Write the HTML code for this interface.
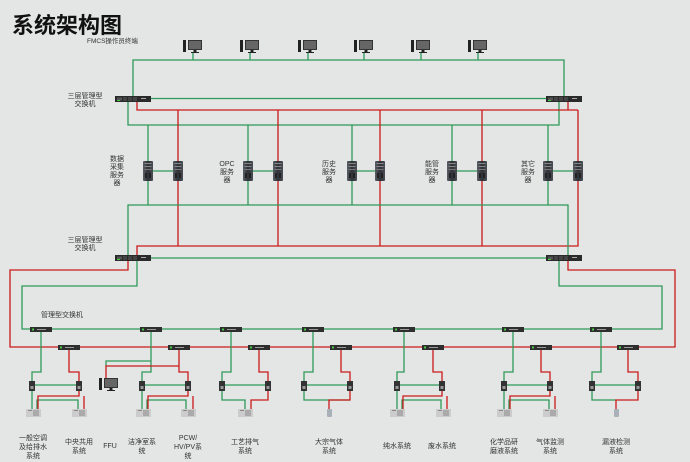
<!DOCTYPE html>
<html><head><meta charset="utf-8"><style>
body{margin:0;background:#e4e6e5;}
svg{display:block}
text{font-family:"Liberation Sans","Noto Sans CJK SC",sans-serif;fill:#333;font-size:7px}
</style></head><body>
<svg width="690" height="462" viewBox="0 0 690 462" xmlns="http://www.w3.org/2000/svg">
<defs>
<linearGradient id="sv" x1="0" x2="1"><stop offset="0" stop-color="#5a5f66"/><stop offset="0.5" stop-color="#2d3036"/><stop offset="1" stop-color="#4a4e55"/></linearGradient>
<g id="mon"><rect x="0" y="0" width="3" height="12" fill="#222"/><rect x="5" y="0" width="14" height="10" fill="#333"/><rect x="6" y="1" width="12" height="8" fill="#666"/><rect x="10.5" y="10" width="3" height="2" fill="#222"/><rect x="8" y="12" width="8" height="1" fill="#222"/></g>
<g id="sw3"><rect x="0" y="0" width="36" height="6" fill="#2a2a2a"/><rect x="2" y="1.5" width="5" height="3" fill="#555"/><rect x="2" y="4" width="3" height="1" fill="#4c4"/><rect x="8" y="1" width="4" height="4" fill="#444"/><rect x="13" y="1" width="4" height="4" fill="#444"/><rect x="18" y="1" width="4" height="4" fill="#444"/><rect x="26" y="2" width="5" height="1" fill="#aaa"/></g>
<g id="sw"><rect x="0" y="0" width="22" height="5" fill="#2e2e2e"/><rect x="2" y="1.5" width="2" height="2" fill="#4c4"/><rect x="7" y="2" width="9" height="1" fill="#999"/></g>
<g id="srv"><rect x="0" y="0" width="10" height="20" rx="1" fill="url(#sv)"/><rect x="1.5" y="2" width="7" height="1" fill="#888"/><rect x="1.5" y="5" width="7" height="1" fill="#888"/><rect x="1.5" y="8" width="7" height="1" fill="#777"/><rect x="2" y="12" width="2" height="5" fill="#222"/><rect x="6" y="12" width="2" height="5" fill="#222"/></g>
<g id="plc"><rect x="0" y="0" width="6" height="10" fill="#333"/><rect x="1.5" y="5" width="3" height="3" fill="#999"/></g>
<g id="dev"><rect x="0" y="0" width="15" height="8" fill="#ccc"/><rect x="7" y="1" width="6" height="6" fill="#aaa"/><rect x="2" y="1" width="4" height="1" fill="#888"/></g>
<g id="vial"><rect x="0" y="0" width="5" height="8" rx="1" fill="#aab0b8"/></g>
</defs>

<text x="12" y="33" style="font-size:22px;font-weight:bold;fill:#111">系统架构图</text>
<text x="87" y="43" style="font-size:6.5px">FMCS操作员终端</text>

<g fill="none" stroke-width="1.3">
<!-- top green -->
<path d="M133 98 V60 H564 V96" stroke="#2e9a5a"/>
<path d="M193 53V60 M250 53V60 M308 53V60 M364 53V60 M421 53V60 M478 53V60" stroke="#2e9a5a"/>
<path d="M151 98.5 H546" stroke="#2e9a5a"/>
<path d="M128 101 V125 H559 V101" stroke="#2e9a5a"/>
<path d="M137 101 V110 H578 M568 101 V110" stroke="#cc1a1a"/>
<path d="M578 110 V246 H137 V256" stroke="#cc1a1a"/>
<!-- server verticals -->
<path d="M148 125V205 M248 125V205 M352 125V205 M452 125V205 M548 125V205" stroke="#2e9a5a"/>
<path d="M178 110V246 M278 110V246 M380 110V246 M482 110V246" stroke="#cc1a1a"/>
<path d="M153 171H173 M253 171H273 M357 171H375 M457 171H477 M553 171H573" stroke="#2e9a5a"/>
<path d="M128 256 V205 H568 V255" stroke="#2e9a5a"/>
<path d="M151 258 H546" stroke="#2e9a5a"/>
<!-- lower trunks -->
<path d="M128 261 V270 H10 V347 H675 V270 H568 V261" stroke="#cc1a1a"/>
<path d="M137 261 V286 H22 V329 H662 V286 H559 V261" stroke="#2e9a5a"/>
<!-- groups: green drops -->
<path d="M41 329V372H32V410 M32 385H79 M37 410V400H78V410" stroke="#2e9a5a"/>
<path d="M69 347V372H79V396H38V410 M84 396V410" stroke="#cc1a1a"/>
<path d="M151 329V372H142V410 M142 385H188 M147 410V400H186V410 M151 361H106V366" stroke="#2e9a5a"/>
<path d="M179 347V372H188V396H148V410 M193 396V410 M179 366H106V380" stroke="#cc1a1a"/>
<path d="M231 329V372H222V400H245V410 M222 385H268" stroke="#2e9a5a"/>
<path d="M259 347V372H268V400H251V410" stroke="#cc1a1a"/>
<path d="M313 329V372H304V400H350 M304 385H350" stroke="#2e9a5a"/>
<path d="M341 347V372H350V400H329V410" stroke="#cc1a1a"/>
<path d="M404 329V372H397V410 M397 385H442 M402 410V400H441V410" stroke="#2e9a5a"/>
<path d="M433 347V372H442V396H403V410 M447 396V410" stroke="#cc1a1a"/>
<path d="M513 329V372H504V410 M504 385H550 M509 410V400H549V410" stroke="#2e9a5a"/>
<path d="M541 347V372H550V396H510V410 M555 396V410" stroke="#cc1a1a"/>
<path d="M601 329V372H592V400H616 M592 385H638" stroke="#2e9a5a"/>
<path d="M628 347V372H638V400H616V410" stroke="#cc1a1a"/>
</g>

<use href="#mon" x="183" y="40"/><use href="#mon" x="240" y="40"/><use href="#mon" x="298" y="40"/>
<use href="#mon" x="354" y="40"/><use href="#mon" x="411" y="40"/><use href="#mon" x="468" y="40"/>
<use href="#mon" x="99" y="378"/>

<use href="#sw3" x="115" y="96"/><use href="#sw3" x="546" y="96"/>
<use href="#sw3" x="115" y="255"/><use href="#sw3" x="546" y="255"/>

<use href="#srv" x="143" y="161"/><use href="#srv" x="173" y="161"/>
<use href="#srv" x="243" y="161"/><use href="#srv" x="273" y="161"/>
<use href="#srv" x="347" y="161"/><use href="#srv" x="375" y="161"/>
<use href="#srv" x="447" y="161"/><use href="#srv" x="477" y="161"/>
<use href="#srv" x="543" y="161"/><use href="#srv" x="573" y="161"/>

<use href="#sw" x="30" y="327"/><use href="#sw" x="140" y="327"/><use href="#sw" x="220" y="327"/><use href="#sw" x="302" y="327"/><use href="#sw" x="393" y="327"/><use href="#sw" x="502" y="327"/><use href="#sw" x="590" y="327"/>
<use href="#sw" x="58" y="345"/><use href="#sw" x="168" y="345"/><use href="#sw" x="248" y="345"/><use href="#sw" x="330" y="345"/><use href="#sw" x="422" y="345"/><use href="#sw" x="530" y="345"/><use href="#sw" x="617" y="345"/>

<use href="#plc" x="29" y="381"/><use href="#plc" x="76" y="381"/>
<use href="#plc" x="139" y="381"/><use href="#plc" x="185" y="381"/>
<use href="#plc" x="219" y="381"/><use href="#plc" x="265" y="381"/>
<use href="#plc" x="301" y="381"/><use href="#plc" x="347" y="381"/>
<use href="#plc" x="394" y="381"/><use href="#plc" x="439" y="381"/>
<use href="#plc" x="501" y="381"/><use href="#plc" x="547" y="381"/>
<use href="#plc" x="589" y="381"/><use href="#plc" x="635" y="381"/>

<use href="#dev" x="26" y="409"/><use href="#dev" x="72" y="409"/>
<use href="#dev" x="136" y="409"/><use href="#dev" x="181" y="409"/>
<use href="#dev" x="238" y="409"/>
<use href="#vial" x="327" y="409"/>
<use href="#dev" x="390" y="409"/><use href="#dev" x="436" y="409"/>
<use href="#dev" x="497" y="409"/><use href="#dev" x="543" y="409"/>
<use href="#vial" x="614" y="409"/>

<g text-anchor="middle">
<text x="85" y="98">三层管理型</text><text x="85" y="106">交换机</text>
<text x="85" y="242">三层管理型</text><text x="85" y="250">交换机</text>
<text x="62" y="317">管理型交换机</text>
<text x="117" y="161">数据</text><text x="117" y="169">采集</text><text x="117" y="177">服务</text><text x="117" y="185">器</text>
<text x="227" y="166">OPC</text><text x="227" y="174">服务</text><text x="227" y="182">器</text>
<text x="329" y="166">历史</text><text x="329" y="174">服务</text><text x="329" y="182">器</text>
<text x="432" y="166">能管</text><text x="432" y="174">服务</text><text x="432" y="182">器</text>
<text x="528" y="166">其它</text><text x="528" y="174">服务</text><text x="528" y="182">器</text>
<text x="33" y="440">一般空调</text><text x="33" y="449">及给排水</text><text x="33" y="458">系统</text>
<text x="79" y="444">中央共用</text><text x="79" y="453">系统</text>
<text x="110" y="448">FFU</text>
<text x="142" y="444">洁净室系</text><text x="142" y="453">统</text>
<text x="188" y="440">PCW/</text><text x="188" y="449">HV/PV系</text><text x="188" y="458">统</text>
<text x="245" y="444">工艺排气</text><text x="245" y="453">系统</text>
<text x="329" y="444">大宗气体</text><text x="329" y="453">系统</text>
<text x="397" y="448">纯水系统</text>
<text x="442" y="448">废水系统</text>
<text x="504" y="444">化学品研</text><text x="504" y="453">磨液系统</text>
<text x="550" y="444">气体监测</text><text x="550" y="453">系统</text>
<text x="616" y="444">漏液检测</text><text x="616" y="453">系统</text>
</g>
</svg>
</body></html>
